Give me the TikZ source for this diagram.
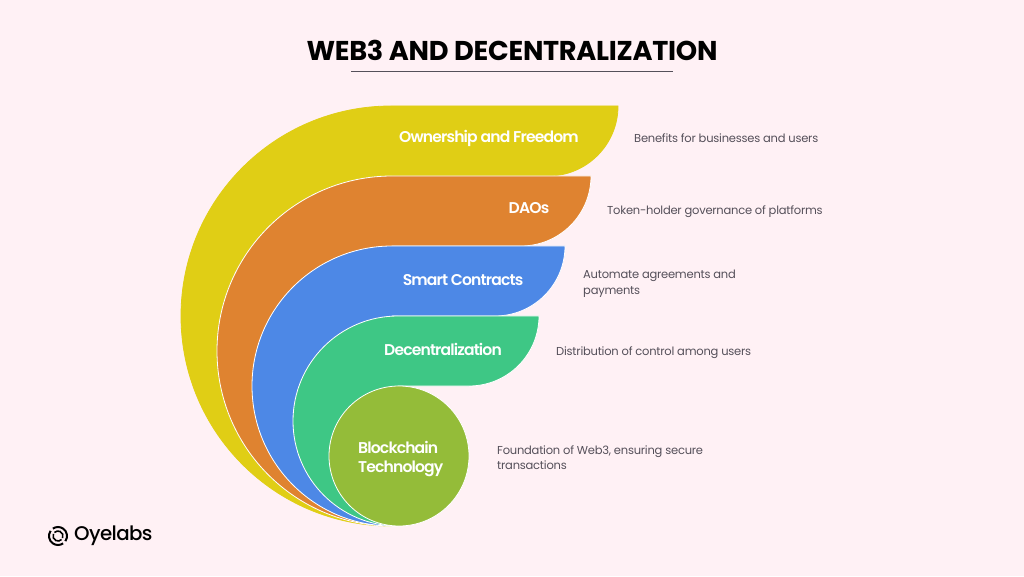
\documentclass[tikz,border=0pt]{standalone}
\usepackage{fontspec}
\setmainfont{Poppins}
\newfontfamily\headfont[LetterSpace=-5.5]{Poppins SemiBold}
\newfontfamily\notefont[LetterSpace=-2]{Poppins}
\newfontfamily\brandfont[LetterSpace=-3]{Poppins Medium}
\newfontfamily\titlefont[LetterSpace=-1]{Poppins}
\usepackage{xcolor}
\definecolor{bgpink}{HTML}{FFF1F5}
\definecolor{petalyellow}{HTML}{E0CE15}
\definecolor{petalorange}{HTML}{DF8330}
\definecolor{petalblue}{HTML}{4D88E6}
\definecolor{petalgreen}{HTML}{3EC785}
\definecolor{petalolive}{HTML}{94BC39}
\definecolor{notegray}{HTML}{55505A}
\tikzset{
	petal/.style={draw=white, line width=0.8pt},
	head/.style={white, inner sep=0pt, font=\headfont\fontsize{15.6}{19}\selectfont, align=left},
	note/.style={notegray, inner sep=0pt, anchor=west, font=\notefont\fontsize{11.5}{15.5}\selectfont, align=left},
}
\begin{document}
\begin{tikzpicture}[x=1pt,y=1pt]
	\fill[bgpink] (0,0) rectangle (1024,576);
	\useasboundingbox (0,0) rectangle (1024,576);
	\node[font=\titlefont\fontsize{27.2}{30}\selectfont\bfseries] (title) at (512,526){WEB3 AND DECENTRALIZATION};
	\draw[notegray, line width=0.6pt] (351,505) -- (673,505);
	\draw[petal, draw=petalyellow, fill=petalyellow] (391,50) arc (-90:-270:210) -- (618,470) arc (0:-90:70) -- (391,400) -- cycle;
	\draw[petal, fill=petalorange] (392,50) arc (-90:-270:175) -- (591,400) arc (0:-90:70) -- (392,330) -- cycle;
	\draw[petal, fill=petalblue] (392,50) arc (-90:-270:140) -- (565,330) arc (0:-90:70) -- (392,260) -- cycle;
	\draw[petal, fill=petalgreen] (398,50) arc (-90:-270:105) -- (539,260) arc (0:-90:70) -- (398,190) -- cycle;
	\draw[petal, fill=petalolive] (399,120) circle (70);
	\node[head] (own) at (489,438){Ownership and Freedom};
	\node[head] (daos) at (529,367.5){DAOs};
	\node[head] (smart) at (463,295.5){Smart Contracts};
	\node[head] (decen) at (443,226.5){Decentralization};
	\node[head, anchor=west] (chain) at (358,117){Blockchain\\Technology};
	\node[note] (ownnote) at (634,438){Benefits for businesses and users};
	\node[note] (daosnote) at (607,364.5){Token-holder governance of platforms};
	\node[note] (smartnote) at (583,292.5){Automate agreements and\\payments};
	\node[note] (decennote) at (556,223.5){Distribution of control among users};
	\node[note] (chainnote) at (497,118.5){Foundation of Web3, ensuring secure\\transactions};
	% logo
	\draw[line width=2pt] (58,40) ++(145:9) arc (145:305:9);
	\draw[line width=2pt] (58,40) ++(325:9) arc (325:485:9);
	\draw[line width=1.6pt] (58,40) ++(155:5) arc (155:315:5);
	\draw[line width=1.6pt] (58,40) ++(335:5) arc (335:495:5);
	\node[anchor=west, inner sep=0pt, font=\brandfont\fontsize{19.8}{24}\selectfont] (brand) at (74,40){Oyelabs};
\end{tikzpicture}
\end{document}
